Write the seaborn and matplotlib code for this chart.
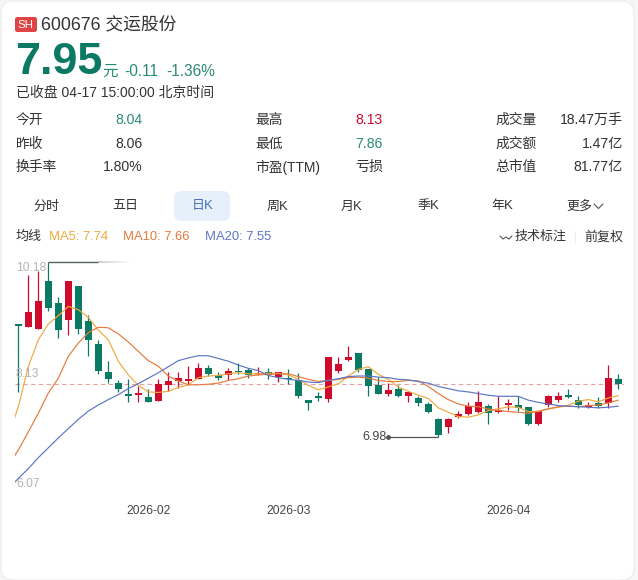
import numpy as np
import pandas as pd
import matplotlib
matplotlib.use('Agg')
import matplotlib.pyplot as plt
from matplotlib.patches import FancyBboxPatch
import seaborn as sns

# daily candles, oldest first
opens = [9.03,9.00,8.96,9.84,9.44,9.13,9.75,9.11,8.69,8.17,7.98,7.77,7.76,7.72,7.65,7.94,8.01,8.01,8.05,8.25,
         8.12,8.11,8.20,8.21,8.13,8.17,8.08,8.06,8.03,7.66,7.73,7.68,8.20,8.40,8.52,8.23,7.93,7.77,7.87,7.73,
         7.70,7.59,7.31,7.17,7.35,7.41,7.45,7.56,7.45,7.58,7.57,7.54,7.22,7.58,7.67,7.75,7.66,7.53,7.60,7.60,8.04]
highs = [9.03,9.95,10.01,10.18,9.55,9.84,9.75,9.22,8.75,8.38,8.03,8.04,7.91,7.86,8.04,8.18,8.18,8.29,8.33,8.31,
         8.18,8.25,8.33,8.25,8.26,8.24,8.18,8.23,8.15,7.66,7.80,8.44,8.44,8.64,8.52,8.23,8.08,7.97,7.94,7.82,
         7.74,7.63,7.33,7.33,7.47,7.63,7.83,7.59,7.73,7.68,7.73,7.54,7.46,7.76,7.81,7.86,7.73,7.62,7.71,8.30,8.13]
lows = [7.80,9.00,8.96,9.28,8.80,8.84,8.87,8.47,8.13,7.98,7.80,7.62,7.62,7.62,7.65,7.83,7.89,7.93,8.05,8.10,
        8.03,8.02,8.14,8.06,8.11,8.05,8.00,7.96,7.70,7.48,7.64,7.63,8.15,8.38,8.18,7.73,7.77,7.74,7.71,7.63,
        7.56,7.42,6.98,7.06,7.33,7.39,7.42,7.23,7.43,7.48,7.47,7.20,7.21,7.54,7.63,7.70,7.51,7.51,7.51,7.51,7.86]
closes = [9.01,9.27,9.46,9.34,8.94,9.84,8.96,8.76,8.20,8.04,7.87,7.74,7.79,7.63,7.95,8.01,8.07,8.05,8.25,8.14,
          8.06,8.20,8.17,8.12,8.15,8.12,8.17,8.04,7.73,7.60,7.69,8.44,8.32,8.45,8.21,7.92,7.77,7.85,7.74,7.80,
          7.60,7.45,7.03,7.32,7.41,7.56,7.63,7.42,7.48,7.60,7.51,7.22,7.46,7.73,7.74,7.71,7.57,7.58,7.56,8.06,7.95]

# moving averages start one day before the first candle (that day is cut off at the edge)
ma5 = [6.99,7.54,8.27,8.76,9.05,9.20,9.37,9.31,9.17,8.94,8.76,8.37,8.12,7.93,7.81,7.80,7.82,7.89,7.94,8.07,8.10,
       8.11,8.14,8.16,8.14,8.14,8.15,8.15,8.12,8.04,7.93,7.85,7.90,7.96,8.10,8.22,8.27,8.13,8.04,7.90,7.82,
       7.75,7.69,7.52,7.44,7.36,7.35,7.39,7.47,7.50,7.54,7.53,7.45,7.45,7.50,7.53,7.57,7.64,7.67,7.63,7.70,7.74]
ma10 = [6.46,6.75,7.08,7.42,7.79,8.06,8.46,8.70,8.89,8.99,8.98,8.87,8.72,8.55,8.38,8.28,8.10,8.01,7.94,7.94,7.95,
        7.97,8.02,8.05,8.10,8.12,8.13,8.14,8.14,8.09,8.04,8.00,8.02,8.04,8.07,8.08,8.06,8.02,8.00,8.00,8.02,
        8.01,7.91,7.78,7.67,7.59,7.55,7.54,7.50,7.47,7.45,7.44,7.42,7.46,7.50,7.54,7.55,7.54,7.56,7.57,7.61,7.66]
ma20 = [6.04,6.23,6.41,6.61,6.79,6.97,7.14,7.31,7.46,7.57,7.67,7.76,7.87,7.96,8.06,8.16,8.27,8.38,8.43,8.47,8.47,
        8.42,8.37,8.30,8.24,8.20,8.11,8.07,8.04,8.02,7.99,7.98,8.02,8.05,8.09,8.10,8.10,8.08,8.07,8.04,8.03,
        8.00,7.97,7.91,7.87,7.83,7.81,7.78,7.75,7.73,7.73,7.73,7.66,7.62,7.59,7.56,7.55,7.54,7.53,7.52,7.53,7.55]

month_ticks = [13, 27, 49]
month_labels = ['2026-02', '2026-03', '2026-04']
axis_prices = ['10.18', '8.13', '6.07']
price_max = 10.18
price_min = 6.07
last_price = 7.95
low_price = 6.98

tabs = ['分时', '五日', '日K', '周K', '月K', '季K', '年K', '更多']
tab_x = [46, 125, 203, 277, 352, 428, 502, 579]

RED = '#cf0a2c'
GREEN = '#0b7a64'
LIGHT_GREEN = '#2b8a76'
C5 = '#eeaa3c'
C10 = '#e57a3c'
C20 = '#5b76c4'
DARK = '#333333'

W, H = 638, 580
sns.set_theme(style='white')
plt.rcParams['font.family'] = ['Liberation Sans', 'Noto Sans CJK SC', 'DejaVu Sans']

fig = plt.figure(figsize=(W / 100, H / 100), dpi=100, facecolor='#f6f6f6')


def box(x, y, w, h, color, edge='none', rounding=0.01):
    # pixel box, kept under the axes
    fig.patches.append(FancyBboxPatch((x / W, 1 - (y + h) / H), w / W, h / H, boxstyle=f'round,pad=0,rounding_size={rounding}',
                                      transform=fig.transFigure, facecolor=color, edgecolor=edge, lw=0.8, zorder=-1))


def txt(x, y, s, size=14, color=DARK, ha='left', **kw):
    # x, y in picture pixels, size in pixels
    fig.text(x / W, 1 - y / H, s, fontsize=size * 0.72, color=color, ha=ha, va='center', **kw)


box(1, 1, 633, 579, 'white', edge='#ececec', rounding=0.02)

# header
box(15, 17, 22, 15, '#e04343', rounding=0.004)
txt(26, 25, 'SH', size=11.5, color='white', ha='center')
txt(41, 25.5, '600676 交运股份', size=17.8)
txt(15, 62, '7.95', size=45, color=GREEN, fontweight='bold')
txt(102, 71, '元', size=15.5, color=LIGHT_GREEN)
txt(124, 71, '-0.11', size=15.5, color=LIGHT_GREEN)
txt(166, 71, '-1.36%', size=15.5, color=LIGHT_GREEN)
txt(16, 92.5, '已收盘 04-17 15:00:00 北京时间', size=13.9)

# quote table
rows_y = [120, 144, 167]
col1 = [('今开', '8.04', LIGHT_GREEN), ('昨收', '8.06', DARK), ('换手率', '1.80%', DARK)]
col2 = [('最高', '8.13', RED), ('最低', '7.86', LIGHT_GREEN), ('市盈(TTM)', '亏损', DARK)]
col3 = [('成交量', '18.47万手', DARK), ('成交额', '1.47亿', DARK), ('总市值', '81.77亿', DARK)]
for col, xl, xr in [(col1, 16, 143), (col2, 255, 383), (col3, 495, 623)]:
    for y, (name, val, c) in zip(rows_y, col):
        txt(xl, y, name, size=13.8)
        txt(xr, y, val, size=14, color=c, ha='right')

# period tabs
box(174, 191, 56, 30, '#e6f0fb', rounding=0.012)
for name, x in zip(tabs, tab_x):
    txt(x, 206.5, name, size=13, color='#4a6fb5' if name == '日K' else DARK, ha='center')
fig.add_artist(plt.Line2D(np.array([594, 598.5, 603]) / W, 1 - np.array([204, 208.5, 204]) / H, color='#555555', lw=0.8))

# legend row
txt(15, 237, '均线', size=13)
txt(49, 237, 'MA5: 7.74', size=13, color=C5)
txt(123, 237, 'MA10: 7.66', size=13, color=C10)
txt(205, 237, 'MA20: 7.55', size=13, color=C20)
fig.add_artist(plt.Line2D(np.array([500, 503, 506, 509, 512]) / W, 1 - np.array([236, 239, 237, 239, 236]) / H,
                          color='#555555', lw=0.8))
txt(515, 237, '技术标注', size=13)
fig.add_artist(plt.Line2D([575 / W, 575 / W], [1 - 231 / H, 1 - 243 / H], color='#eeeeee', lw=0.8))
txt(584, 237, '前复权', size=13)

# chart area
top, bottom, left, right = 262, 487.3, 15, 624
ax = fig.add_axes([left / W, 1 - bottom / H, (right - left) / W, (bottom - top) / H])
ax.patch.set_alpha(0)

days = np.arange(len(closes))
df = pd.DataFrame({'open': opens, 'high': highs, 'low': lows, 'close': closes, 'day': days})
up = df['close'] > df['open']
colors = np.where(up, RED, GREEN)

ax.vlines(df['day'], df['low'], df['high'], colors=colors, lw=0.9, zorder=2)
body_low = df[['open', 'close']].min(axis=1)
body_h = (df['open'] - df['close']).abs().clip(lower=0.03)
ax.bar(df['day'], body_h, bottom=body_low, width=0.7, color=colors, linewidth=0, zorder=2)

ma_days = np.arange(-1, len(closes))
ma_df = pd.DataFrame({'day': ma_days, 'MA5': ma5, 'MA10': ma10, 'MA20': ma20}).melt('day', var_name='ma', value_name='price')
sns.lineplot(data=ma_df, x='day', y='price', hue='ma', palette={'MA5': C5, 'MA10': C10, 'MA20': C20},
             lw=0.85, legend=False, ax=ax, zorder=3, errorbar=None)

ax.axhline(last_price, color='#e9a0a0', lw=0.8, ls=(0, (4, 3)), zorder=1)

# high and low callouts
ax.hlines(price_max, 3, 8, color='#56605c', lw=1.0, clip_on=False, zorder=4)
for a, b in zip(np.linspace(8, 11.2, 17)[:-1], np.linspace(8, 11.2, 17)[1:]):
    ax.hlines(price_max, a, b, color='#9aa09e', lw=1.2, alpha=max(0.0, 1 - (a - 8) / 3.2) * 0.6, clip_on=False)
ax.hlines(low_price, 37, 42, color='#555555', lw=0.9, zorder=4)
ax.plot([37], [low_price], 'o', color='#555555', ms=2.5, zorder=4)
ax.text(36.8, low_price, '6.98', fontsize=12.5 * 0.72, color='#444444', ha='right', va='center')

ax.set_xlim((left - 18.3) / 10, (right - 18.3) / 10)
ax.set_ylim(price_min, price_max)
ax.set_xlabel('')
ax.set_ylabel('')
ax.set_yticks([])
ax.set_xticks(month_ticks)
ax.set_xticklabels(month_labels, fontsize=12 * 0.72, color='#444444')
ax.tick_params(axis='x', length=0, pad=13)
sns.despine(ax=ax, left=True, bottom=True)

for s, y in zip(axis_prices, [268, 374, 484]):
    txt(16, y, s, size=12, color='#b4b4b4')

fig.savefig('out.png', dpi=100, facecolor=fig.get_facecolor())
